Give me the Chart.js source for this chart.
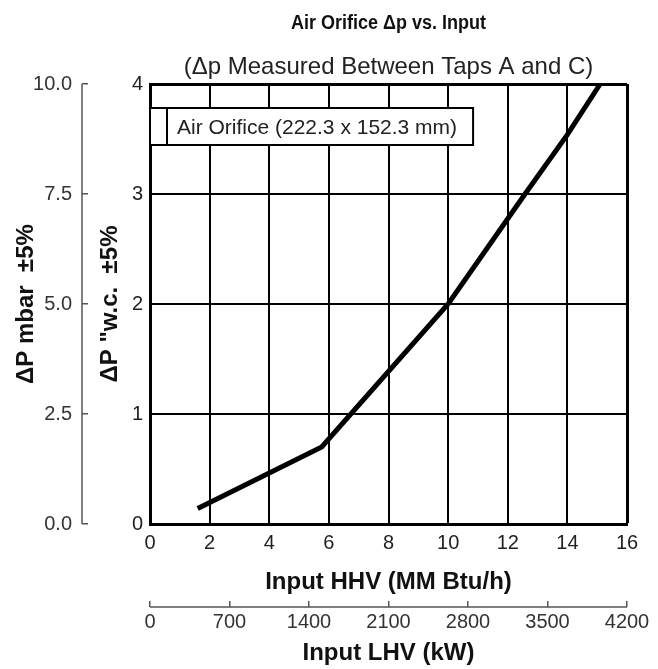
<!DOCTYPE html>
<html lang="en">
<head>
<meta charset="UTF-8">
<title>Air Orifice Δp vs. Input</title>
<script src="https://cdn.jsdelivr.net/npm/chart.js"></script>
<style>
    body {
        margin: 0;
        background-color: #ffffff;
    }
</style>
</head>
<body>
<canvas id="orificeChart" width="658" height="669"></canvas>
<script>
// curve: HHV input (MM Btu/h) vs dp ("w.c.)
const hhvInput = [1.6, 5.76, 10.0, 12.58, 14.0, 15.1];
const deltaPwc = [0.14, 0.70, 2.0, 3.0, 3.54, 4.0];

// tick values for the four axes
const hhvTicks = [0, 2, 4, 6, 8, 10, 12, 14, 16];
const wcTicks = [0, 1, 2, 3, 4];
const mbarTicks = [0, 2.5, 5, 7.5, 10];
const lhvTicks = [0, 700, 1400, 2100, 2800, 3500, 4200];

const seriesLabel = 'Air Orifice (222.3 x 152.3 mm)';
const chartTitle = 'Air Orifice \u0394p vs. Input';
const chartSubtitle = '(\u0394p Measured Between Taps A and C)';

const FONT = "'Liberation Sans', Arial, sans-serif";
Chart.defaults.font.family = FONT;

const setTicks = (values) => (scale) => {
    scale.ticks = values.map(v => ({ value: v }));
};

// draws the titles, the boxed legend and the lines of the two extra axes
const orificeDecor = {
    id: 'orificeDecor',
    afterDraw(chart) {
        const { ctx, chartArea, scales } = chart;
        ctx.save();

        // mbar axis line (ticks point toward the plot)
        const ym = scales.y2;
        const xLine = ym.right - 6;
        ctx.strokeStyle = '#555';
        ctx.lineWidth = 1.5;
        ctx.beginPath();
        ctx.moveTo(xLine, ym.getPixelForValue(mbarTicks[0]));
        ctx.lineTo(xLine, ym.getPixelForValue(mbarTicks[mbarTicks.length - 1]));
        ctx.stroke();

        // kW axis line
        const xk = scales.x2;
        const yLine = xk.top + 6;
        ctx.beginPath();
        ctx.moveTo(xk.getPixelForValue(lhvTicks[0]), yLine);
        ctx.lineTo(xk.getPixelForValue(lhvTicks[lhvTicks.length - 1]), yLine);
        ctx.stroke();

        // legend box in the top left of the plot
        const label = chart.data.datasets[0].label;
        ctx.font = '21px ' + FONT;
        const tw = ctx.measureText(label).width;
        const bx = chartArea.left;
        const by = chartArea.top + 24;
        const bh = 37;
        const sw = 17;
        const bw = sw + 10 + tw + 16;
        ctx.fillStyle = '#ffffff';
        ctx.fillRect(bx, by, bw, bh);
        ctx.strokeStyle = '#000';
        ctx.lineWidth = 2;
        ctx.strokeRect(bx, by, bw, bh);
        ctx.beginPath();
        ctx.moveTo(bx + sw, by);
        ctx.lineTo(bx + sw, by + bh);
        ctx.stroke();
        ctx.fillStyle = '#222';
        ctx.textAlign = 'left';
        ctx.textBaseline = 'alphabetic';
        ctx.fillText(label, bx + sw + 10, by + 26);

        // title (slightly condensed bold) and subtitle centred over the plot
        const cx = (chartArea.left + chartArea.right) / 2;
        ctx.textAlign = 'center';
        ctx.fillStyle = '#111';
        ctx.save();
        ctx.translate(cx, 29);
        ctx.scale(0.9, 1);
        ctx.font = 'bold 20px ' + FONT;
        ctx.fillText(chartTitle, 0, 0);
        ctx.restore();
        ctx.font = '24px ' + FONT;
        ctx.fillStyle = '#222';
        ctx.fillText(chartSubtitle, cx, 74);

        ctx.restore();
    }
};

const edgeWidth = (maxVal) => (c) => (c.tick && c.tick.value === maxVal ? 3 : 2);
const plainNumber = (v) => String(v);

new Chart(document.getElementById('orificeChart'), {
    type: 'line',
    data: {
        datasets: [{
            label: seriesLabel,
            data: hhvInput.map((x, i) => ({ x: x, y: deltaPwc[i] })),
            borderColor: '#000',
            borderWidth: 5,
            pointRadius: 0,
            tension: 0,
            xAxisID: 'x',
            yAxisID: 'y'
        }]
    },
    options: {
        responsive: false,
        animation: false,
        devicePixelRatio: 1,
        layout: { padding: { top: 84, right: 31, left: 0, bottom: 0 } },
        plugins: {
            legend: { display: false },
            tooltip: { enabled: false }
        },
        scales: {
            x: {
                type: 'linear',
                position: 'bottom',
                weight: 0,
                min: 0,
                max: 16,
                afterBuildTicks: setTicks(hhvTicks),
                afterFit: (s) => { s.height = 77; },
                grid: { color: '#000', lineWidth: edgeWidth(16), drawTicks: false },
                border: { color: '#000', width: 3 },
                ticks: { color: '#222', font: { size: 20 }, padding: 7, maxRotation: 0, callback: plainNumber },
                title: {
                    display: true,
                    text: 'Input HHV (MM Btu/h)',
                    color: '#111',
                    font: { size: 24, weight: 'bold' },
                    padding: { top: 0, bottom: 4 }
                }
            },
            x2: {
                type: 'linear',
                position: 'bottom',
                weight: 1,
                min: 0,
                max: 4200,
                afterBuildTicks: setTicks(lhvTicks),
                afterFit: (s) => { s.height = 68; },
                grid: { drawOnChartArea: false, drawTicks: true, tickLength: 6, color: '#555', lineWidth: 1.5 },
                border: { display: false },
                ticks: { color: '#333', font: { size: 20 }, padding: 3, maxRotation: 0, callback: plainNumber },
                title: {
                    display: true,
                    text: 'Input LHV (kW)',
                    color: '#111',
                    font: { size: 24, weight: 'bold' },
                    padding: { top: 0, bottom: 1 }
                }
            },
            y: {
                type: 'linear',
                position: 'left',
                weight: 0,
                min: 0,
                max: 4,
                afterBuildTicks: setTicks(wcTicks),
                afterFit: (s) => { s.width = 62; },
                grid: { color: '#000', lineWidth: edgeWidth(4), drawTicks: false },
                border: { color: '#000', width: 3 },
                ticks: { color: '#222', font: { size: 20 }, padding: 7, callback: plainNumber },
                title: {
                    display: true,
                    text: '\u0394P "w.c.  \u00b15%',
                    color: '#111',
                    font: { size: 24, weight: 'bold' },
                    padding: { top: 8, bottom: 0 }
                }
            },
            y2: {
                type: 'linear',
                position: 'left',
                weight: 1,
                min: 0,
                max: 10,
                afterBuildTicks: setTicks(mbarTicks),
                afterFit: (s) => { s.width = 88; },
                grid: { drawOnChartArea: false, drawTicks: true, tickLength: 6, color: '#555', lineWidth: 1.5 },
                border: { display: false },
                ticks: {
                    color: '#333',
                    font: { size: 20 },
                    padding: 10,
                    callback: (v) => Number(v).toFixed(1)
                },
                title: {
                    display: true,
                    text: '\u0394P mbar  \u00b15%',
                    color: '#111',
                    font: { size: 24, weight: 'bold' },
                    padding: { top: 12, bottom: 0 }
                }
            }
        }
    },
    plugins: [orificeDecor]
});
</script>
</body>
</html>
